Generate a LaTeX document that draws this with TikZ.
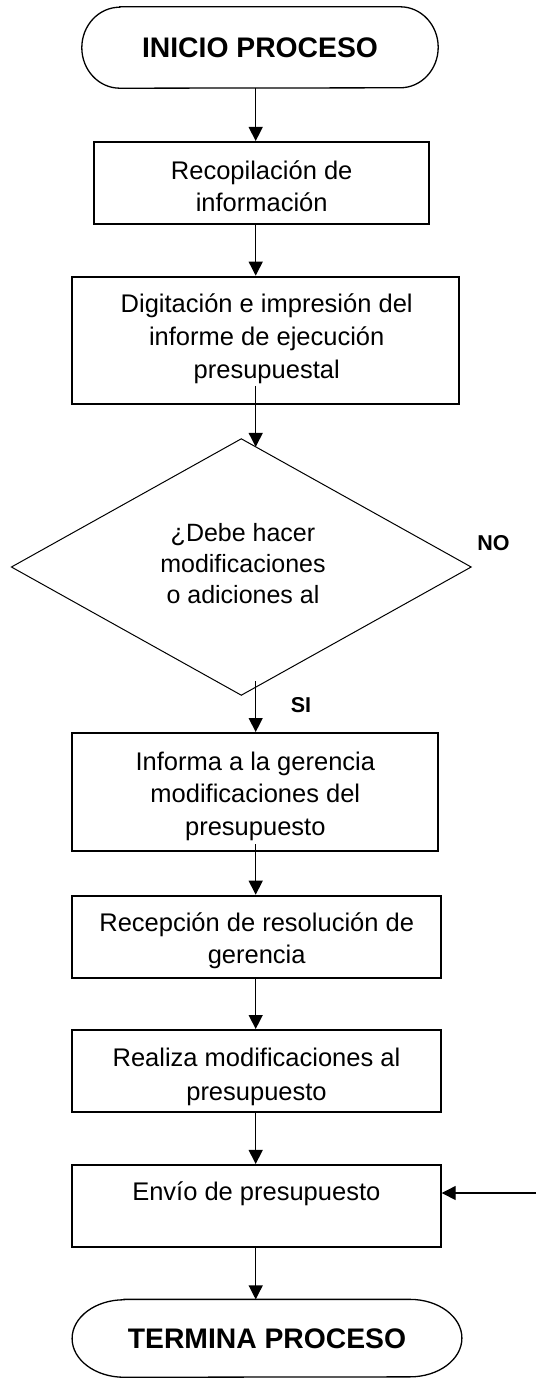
\documentclass[tikz,border=0pt]{standalone}
\usepackage{fontspec}
\setmainfont{Liberation Sans}
\usetikzlibrary{arrows.meta,calc}
\newcommand\regf{\fontsize{25.5}{32.7}\selectfont}
\newcommand\diaf{\fontsize{25}{30.7}\selectfont}
\newcommand\termf{\fontsize{28.3}{34}\selectfont\bfseries}
\newcommand\lblf{\fontsize{21.5}{26}\selectfont\bfseries}
\newcommand\lines[1]{\begin{tabular}[t]{@{}c@{}}#1\end{tabular}}
\begin{document}
\begin{tikzpicture}[x=1pt,y=-1pt,
  boxnode/.style={draw=black,line width=2pt,inner sep=0pt,rectangle},
  ghost/.style={draw=none,inner sep=0pt,rectangle},
  txt/.style={inner sep=0pt,anchor=base,align=center},
  termline/.style={line width=1.3pt},
  dialine/.style={line width=1pt},
  arr/.style={line width=1.3pt,-{Triangle[length=14pt,width=14pt]}}]
\useasboundingbox (0,0) rectangle (536,1378);
\coordinate (col) at (255.7,0);

% start terminator
\node[ghost,minimum width=356pt,minimum height=81pt,font=\termf] (start) at (260,47.5) {INICIO PROCESO};
\draw[termline] ([xshift=38pt]start.north west) -- ([xshift=-38pt]start.north east)
  arc[start angle=90,end angle=-90,x radius=38pt,y radius=40.5pt]
  -- ([xshift=38pt]start.south west)
  arc[start angle=270,end angle=90,x radius=38pt,y radius=40.5pt] -- cycle;

% boxes
\node[boxnode,minimum width=335pt,minimum height=82pt] (b1) at (261.5,183) {};
\node[txt,font=\regf] (t1) at (261.7,179) {\lines{Recopilación de\\información}};

\node[boxnode,minimum width=387pt,minimum height=127.3pt] (b2) at (265.5,340.3) {};
\node[txt,font=\regf] (t2) at (266.7,312.7) {\lines{Digitación e impresión del\\informe de ejecución\\presupuestal}};

% decision
\node[ghost,minimum width=459.3pt,minimum height=256pt] (dia) at (241.3,567) {};
\draw[dialine] (dia.north) -- (dia.east) -- (dia.south) -- (dia.west) -- cycle;
\node[txt,font=\diaf] (td) at (243,541.7) {\lines{¿Debe hacer\\modificaciones\\o adiciones al}};
\node[txt,font=\lblf] (no) at (493.5,550) {NO};
\node[txt,font=\lblf] (si) at (301,712) {SI};

\node[boxnode,minimum width=365.4pt,minimum height=118pt] (b3) at (255,792) {};
\node[txt,font=\regf] (t3) at (255.3,770) {\lines{Informa a la gerencia\\modificaciones del\\presupuesto}};

\node[boxnode,minimum width=368.4pt,minimum height=82pt] (b4) at (256.5,936.7) {};
\node[txt,font=\fontsize{25.5}{31.8}\selectfont] (t4) at (256.7,931.7) {\lines{Recepción de resolución de\\gerencia}};

\node[boxnode,minimum width=368.4pt,minimum height=82pt] (b5) at (256.5,1071) {};
\node[txt,font=\fontsize{25.5}{33.3}\selectfont] (t5) at (256.5,1066.7) {\lines{Realiza modificaciones al\\presupuesto}};

\node[boxnode,minimum width=368.4pt,minimum height=81.7pt] (b6) at (256.5,1205.8) {};
\node[txt,font=\regf] (t6) at (256.3,1200.7) {Envío de presupuesto};

% end terminator
\node[ghost,minimum width=389.4pt,minimum height=77.5pt,font=\termf] (end) at (267,1338.3) {TERMINA PROCESO};
\draw[termline] ([xshift=52pt]end.north west) -- ([xshift=-52pt]end.north east)
  arc[start angle=90,end angle=-90,x radius=52pt,y radius=38.75pt]
  -- ([xshift=52pt]end.south west)
  arc[start angle=270,end angle=90,x radius=52pt,y radius=38.75pt] -- cycle;

% connectors
\draw[arr] (start.south -| col) -- (b1.north -| col);
\draw[arr] (b1.south -| col) -- (b2.north -| col);
\draw[arr] ($(b2.south -| col)+(0,-19)$) -- ($(dia.north)+(14.4,8.1)$);
\draw[arr] ($(dia.south -| col)+(0,-14)$) -- (b3.north -| col);
\draw[arr] ($(b3.south -| col)+(0,-8)$) -- (b4.north -| col);
\draw[arr] (b4.south -| col) -- (b5.north -| col);
\draw[arr] (b5.south -| col) -- (b6.north -| col);
\coordinate (noin) at (536,1193);
\draw[arr] (noin) -- (b6.east |- noin);
\draw[arr] (b6.south -| col) -- (end.north -| col);
\end{tikzpicture}
\end{document}
